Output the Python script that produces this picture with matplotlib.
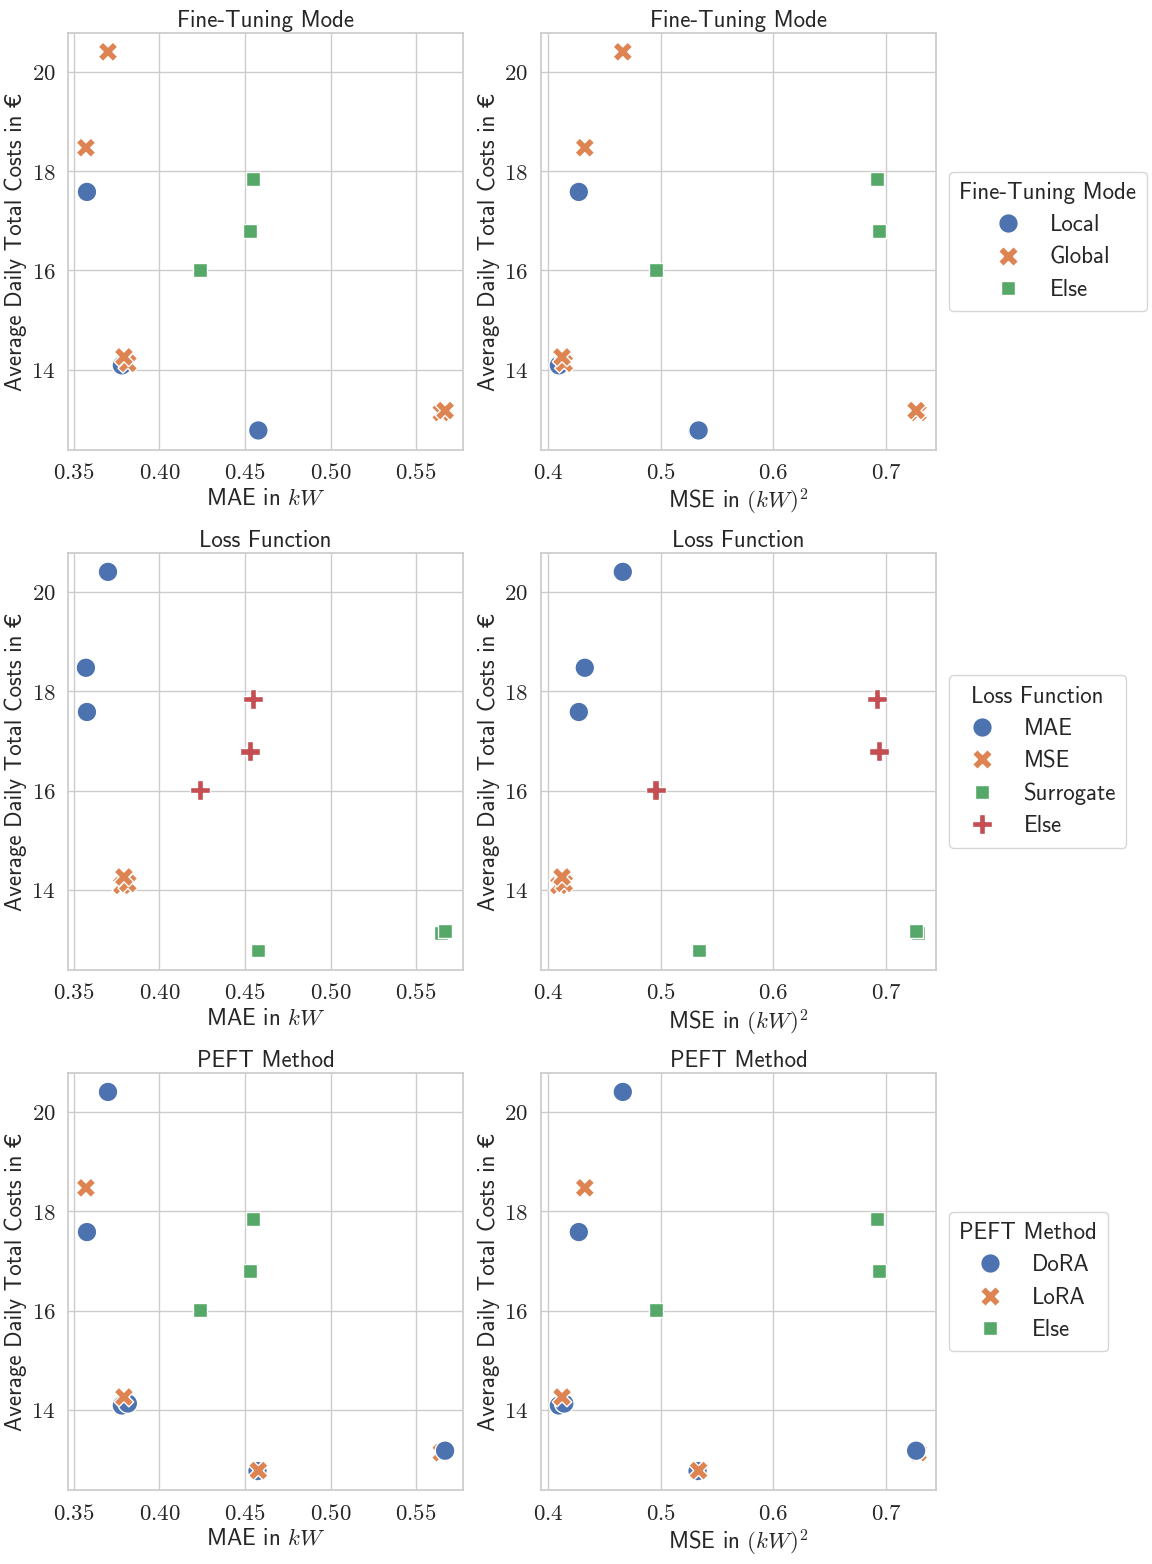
import os
import numpy as np
import pandas as pd
import matplotlib
matplotlib.use('Agg')
import matplotlib.pyplot as plt
import matplotlib.ticker as mticker
from matplotlib import font_manager as fm
import seaborn as sns

# values (one entry per run)
mae = [0.3699, 0.3570, 0.3576, 0.4547, 0.4529, 0.4237, 0.3780, 0.3815, 0.3792,
       0.4573, 0.4578, 0.5648, 0.5670]
mse = [0.4664, 0.4327, 0.4274, 0.6920, 0.6935, 0.4956, 0.4097, 0.4145, 0.4125,
       0.5327, 0.5336, 0.7282, 0.7265]
costs = [20.40, 18.47, 17.58, 17.84, 16.79, 16.01, 14.09, 14.13, 14.26,
         12.77, 12.78, 13.14, 13.18]
ft_mode = ['Global', 'Global', 'Local', 'Else', 'Else', 'Else', 'Local', 'Global',
           'Global', 'Local', 'Local', 'Global', 'Global']
loss_fn = ['MAE', 'MAE', 'MAE', 'Else', 'Else', 'Else', 'MSE', 'MSE', 'MSE',
           'Surrogate', 'Surrogate', 'Surrogate', 'Surrogate']
peft = ['DoRA', 'LoRA', 'DoRA', 'Else', 'Else', 'Else', 'DoRA', 'DoRA', 'LoRA',
        'DoRA', 'LoRA', 'LoRA', 'DoRA']

ft_order = ['Local', 'Global', 'Else']
loss_order = ['MAE', 'MSE', 'Surrogate', 'Else']
peft_order = ['DoRA', 'LoRA', 'Else']

df = pd.DataFrame({'MAE': mae, 'MSE': mse, 'Costs': costs,
                   'Fine-Tuning Mode': ft_mode, 'Loss Function': loss_fn,
                   'PEFT Method': peft})

sns.set_theme(style='whitegrid', palette='deep')

cmss = os.path.join(matplotlib.get_data_path(), 'fonts', 'ttf', 'cmss10.ttf')
fm.fontManager.addfont(cmss)
plt.rcParams['font.family'] = ['cmss10', 'DejaVu Sans']
plt.rcParams['mathtext.fontset'] = 'cm'
plt.rcParams['axes.unicode_minus'] = False

fs = 16.5

rows = [('Fine-Tuning Mode', ft_order),
        ('Loss Function', loss_order),
        ('PEFT Method', peft_order)]

fig, axes = plt.subplots(3, 2, figsize=(11.52, 15.64), dpi=100)
fig.subplots_adjust(left=0.059, right=0.8125, top=0.979, bottom=0.0473,
                    wspace=0.197, hspace=0.247)

for r, (col, order) in enumerate(rows):
    for c, xcol in enumerate(['MAE', 'MSE']):
        ax = axes[r, c]
        sns.scatterplot(data=df, x=xcol, y='Costs', hue=col, style=col,
                        hue_order=order, style_order=order, s=200,
                        edgecolor='white', linewidth=1, ax=ax, legend=(c == 1))
        ax.set_title(col, fontsize=fs, pad=4)
        ax.set_ylabel('Average Daily Total Costs in €', fontsize=fs, labelpad=3)
        if xcol == 'MAE':
            ax.set_xlabel(r'MAE in $kW$', fontsize=fs, labelpad=2)
            ax.xaxis.set_major_locator(mticker.MultipleLocator(0.05))
            ax.xaxis.set_major_formatter(mticker.FormatStrFormatter(r'$%.2f$'))
        else:
            ax.set_xlabel(r'MSE in $(kW)^2$', fontsize=fs, labelpad=2)
            ax.xaxis.set_major_locator(mticker.MultipleLocator(0.1))
            ax.xaxis.set_major_formatter(mticker.FormatStrFormatter(r'$%.1f$'))
        ax.yaxis.set_major_locator(mticker.MultipleLocator(2))
        ax.yaxis.set_major_formatter(mticker.FormatStrFormatter(r'$%d$'))
        ax.tick_params(labelsize=fs, pad=3)
        if c == 1:
            ax.legend(title=col, loc='center left', bbox_to_anchor=(1.033, 0.5),
                      borderaxespad=0, fontsize=fs, title_fontsize=fs,
                      markerscale=1.0, borderpad=0.45, labelspacing=0.45)

fig.savefig('out.png', dpi=100)
